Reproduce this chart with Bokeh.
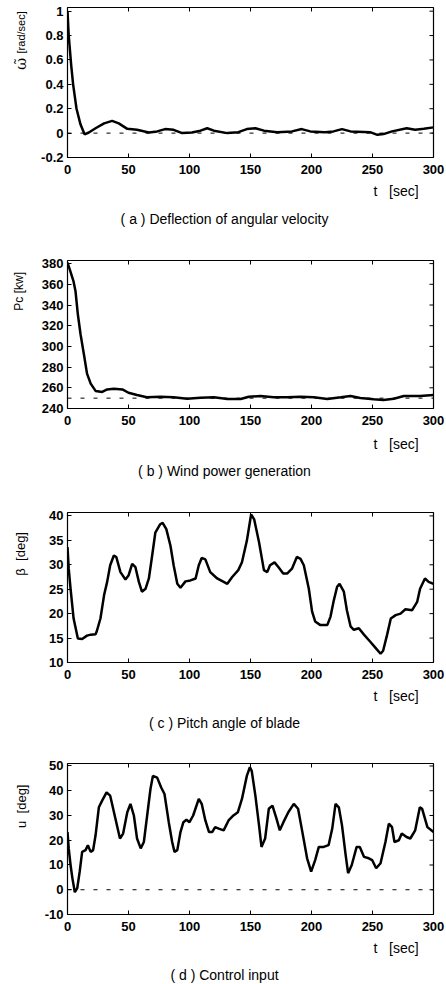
import math
from bokeh.plotting import figure
from bokeh.layouts import column, row
from bokeh.models import FixedTicker, Range1d, Span, Label
from bokeh.embed import file_html
from bokeh.resources import INLINE

# ---------------- data ----------------
t_ticks = [0, 50, 100, 150, 200, 250, 300]

# (a) deflection of angular velocity
t_a = [0, 1, 3, 4.6, 7.4, 10.7, 14, 17.5, 23, 30, 36.6, 42, 49, 57, 66.7, 73.5, 80, 87, 94,
       102, 109, 114.5, 120, 131, 140, 147, 154, 161, 172, 184, 192, 199, 211, 218, 225,
       232, 248, 254, 259, 266, 278, 285, 292, 300]
omega_a = [1.0, 0.8, 0.56, 0.4, 0.2, 0.07, -0.01, 0.005, 0.04, 0.08, 0.1, 0.08, 0.035, 0.027,
           0.005, 0.014, 0.033, 0.027, 0.0, 0.005, 0.02, 0.04, 0.02, 0.0, 0.008, 0.033, 0.04,
           0.02, 0.008, 0.014, 0.033, 0.014, 0.008, 0.014, 0.033, 0.014, 0.008, -0.014,
           -0.008, 0.014, 0.04, 0.027, 0.035, 0.047]
ref_a = 0.0
yticks_a = [-0.2, 0, 0.2, 0.4, 0.6, 0.8, 1]
ylabels_a = ["-0.2", "0", "0.2", "0.4", "0.6", "0.8", "1"]

# (b) wind power generation
t_b = [0, 2.5, 5, 6.6, 8.5, 10.7, 13.4, 16, 19, 23, 28.4, 32.5, 38, 45, 50, 57, 65, 76, 87,
       98, 109, 120, 131, 142, 148.6, 158, 169, 180, 191, 202, 213, 224, 232, 240, 251, 259,
       267.5, 275.7, 289, 300]
pc_b = [381, 372, 362.5, 353, 330.8, 311.7, 292.7, 273.7, 264, 257, 256, 258.4, 259, 258.4,
        255.2, 253, 250.8, 251.4, 250.8, 249.5, 250.5, 250.8, 249.2, 249.2, 251.4, 252,
        250.8, 250.8, 251.4, 250.8, 249.2, 250.8, 252, 250.2, 248.9, 248.3, 249.5, 252, 252,
        253]
ref_b = 250
yticks_b = [240, 260, 280, 300, 320, 340, 360, 380]
ylabels_b = [str(v) for v in yticks_b]

# (c) pitch angle of blade
t_c = [0, 1, 2.5, 5, 8.5, 12, 16, 19, 23, 24, 27, 30, 32.5, 35, 38, 40, 43.4, 47.5, 50, 53,
       55.7, 58.5, 61, 64, 66.7, 69.4, 72, 76, 78, 81, 84.4, 87, 90, 92.6, 96.7, 100.8, 105,
       107.6, 110, 113, 117, 122.7, 128, 131, 135, 140, 143, 147, 150.5, 153, 157, 161,
       163.7, 166, 169.7, 173, 176.8, 180, 184, 188, 191, 193.7, 197.8, 200.5, 203, 207,
       213, 215.6, 218, 221, 223, 226.5, 229, 232, 234.7, 238.8, 243, 248, 252.5, 256.6,
       258.7, 262, 265, 269, 273, 277, 282.5, 286.6, 289, 293, 296, 300]
beta_c = [33.6, 29.2, 25.1, 19, 14.9, 14.8, 15.5, 15.7, 15.8, 16.4, 19, 23.8, 26.5, 29.9, 31.9,
          31.6, 28.5, 27, 27.8, 30.2, 29.5, 26.5, 24.5, 25.1, 27.2, 31.9, 36.6, 38.3, 38.6,
          37.3, 33.9, 29.9, 26.1, 25.3, 26.6, 26.8, 27.2, 29.9, 31.4, 31.1, 28.5, 27.2, 26.5,
          26.1, 27.5, 28.9, 30.5, 34.9, 40.3, 39.3, 34.6, 28.9, 28.5, 29.9, 30.5, 29.5, 28.2,
          28.2, 29.2, 31.6, 31.2, 29.9, 25.1, 20.4, 18.4, 17.7, 17.7, 19.4, 22.4, 25.5, 26.1,
          24.5, 20.7, 17.4, 16.7, 17, 15.7, 14.3, 13, 11.8, 12.4, 15.7, 19, 19.7, 20, 20.9,
          20.7, 22.4, 25.1, 27.2, 26.5, 26.1]
yticks_c = [10, 15, 20, 25, 30, 35, 40]
ylabels_c = [str(v) for v in yticks_c]

# (d) control input
t_d = [0, 1, 2.5, 4, 6, 8, 10, 12, 14.8, 16.7, 19, 21, 23, 25.7, 28.4, 32, 35, 39.3, 43, 45.6,
       49, 51.6, 54.4, 57, 60, 62.6, 65.3, 68, 70, 73.5, 76.8, 79.5, 83, 85.8, 87.7, 90, 92.6,
       95, 97.5, 100, 103, 107.6, 110, 113, 116, 118.6, 121, 124, 128, 132, 136, 139.6, 143,
       147, 149.5, 151, 154, 157, 159, 162, 165, 168, 171.3, 174, 177, 181, 185.5, 189, 192,
       196.4, 199.7, 203, 206, 210, 214, 217, 219.7, 222.4, 225, 228, 230, 233, 237, 239.6,
       243, 247, 249.7, 253, 256.6, 260.6, 263.4, 266, 268, 271.6, 274, 277.9, 281, 285,
       288.8, 290.7, 295, 300]
u_d = [23.3, 16.7, 10, 4.7, -1, 0.7, 7.3, 15.3, 16, 18, 15.3, 16, 22, 33.3, 36, 39.3, 38,
       28.7, 20.7, 22.7, 31.3, 34.7, 30, 20.7, 16.7, 19.3, 30, 40.7, 46, 45.3, 41.3, 38.7,
       27.3, 19.3, 15.3, 16, 23.3, 27.3, 28.3, 27.3, 30, 36.7, 34.7, 28, 23.3, 23.3, 25.3,
       24.7, 24, 28, 30, 31.3, 36.7, 46, 49.5, 48, 38, 26, 17.3, 20.7, 32.7, 34, 28.7, 24,
       27.3, 31.3, 34.7, 32.7, 24.7, 12.7, 7.3, 12, 17.3, 17.3, 18, 24.7, 34.7, 33.3, 26, 14,
       6.7, 10, 17.3, 17.3, 13.3, 12.7, 12, 8.7, 10.7, 19.3, 26.7, 25.3, 19.3, 20, 22.7, 21.3,
       20.7, 24, 33.3, 32.7, 25.3, 23.3]
ref_d = 0.0
yticks_d = [-10, 0, 10, 20, 30, 40, 50]
ylabels_d = [str(v) for v in yticks_d]

# ---------------- layout ----------------
PAGE_W = 446
LEFT_W = 30                 # strip holding the rotated y title
FRAME_L = 67                # frame left edge on the page
FRAME_W = 366
PLOT_W = PAGE_W - LEFT_W
BL = FRAME_L - LEFT_W
BR = PLOT_W - BL - FRAME_W
TICK_FONT = "Liberation Sans"
TEXT_FONT = "Liberation Sans"
NB = "\u00a0"
X_TICK_ROOM = 24


def text_canvas(w, h):
    """A blank figure whose frame covers it entirely; coordinates = pixels."""
    c = figure(width=w, height=h, x_range=Range1d(0, w), y_range=Range1d(0, h),
               output_backend="svg", toolbar_location=None, x_axis_type=None,
               y_axis_type=None, min_border=0, min_border_left=0, min_border_right=0,
               min_border_top=0, min_border_bottom=0)
    c.outline_line_color = None
    c.background_fill_color = "white"
    c.border_fill_color = "white"
    return c


def make_panel(t, y, yr, yticks, ylabels, ytitles, caption, ref, top, frame_h,
               xlab_y, cap_y, text_h):
    ph = top + frame_h + X_TICK_ROOM
    p = figure(width=PLOT_W, height=ph, x_range=Range1d(0, 300),
               y_range=Range1d(yr[0], yr[1]), output_backend="svg",
               toolbar_location=None, min_border_left=BL, min_border_right=BR,
               min_border_top=top, min_border_bottom=X_TICK_ROOM)
    p.xgrid.visible = False
    p.ygrid.visible = False
    p.outline_line_color = "black"
    p.outline_line_width = 1.2
    p.background_fill_color = "white"
    p.border_fill_color = "white"

    p.xaxis.ticker = FixedTicker(ticks=t_ticks)
    p.yaxis.ticker = FixedTicker(ticks=yticks)
    p.yaxis.major_label_overrides = {v: s for v, s in zip(yticks, ylabels)}
    for ax in (p.xaxis[0], p.yaxis[0]):
        ax.major_tick_in = 4
        ax.major_tick_out = 0
        ax.minor_tick_in = 0
        ax.minor_tick_out = 0
        ax.axis_line_color = None
        ax.major_tick_line_color = "black"
        ax.major_label_text_font = TICK_FONT
        ax.major_label_text_font_size = "13px"
        ax.major_label_text_font_style = "bold"
        ax.major_label_text_color = "black"
    p.xaxis.major_label_standoff = 7
    p.yaxis.major_label_standoff = 4

    ppx = FRAME_W / 300.0
    ppy = frame_h / (yr[1] - yr[0])

    # box ticks on top and right edges (from the tick lists)
    n_t = len(t_ticks)
    p.segment(x0=t_ticks, y0=[yr[1]] * n_t, x1=t_ticks, y1=[yr[1] - 4 / ppy] * n_t,
              line_color="black", line_width=1)
    n_y = len(yticks)
    p.segment(x0=[300] * n_y, y0=yticks, x1=[300 - 4 / ppx] * n_y, y1=yticks,
              line_color="black", line_width=1)

    if ref is not None:
        p.add_layout(Span(location=ref, dimension="width", line_color="black",
                          line_width=1, line_dash="4 9"))

    p.line(t, y, line_color="black", line_width=2.5)

    # rotated y title strip
    lt = text_canvas(LEFT_W, ph)
    for (txt, fx, fy, font, size) in ytitles:
        lt.add_layout(Label(x=fx, y=ph - fy, text=txt, angle=math.pi / 2,
                            text_align="center", text_baseline="middle", text_font=font,
                            text_font_size=size, text_color="black"))

    # strip below: x title and caption
    bt = text_canvas(PAGE_W, text_h)
    bt.add_layout(Label(x=373, y=text_h - xlab_y, text="t" + NB * 3 + "[sec]",
                        text_align="left", text_baseline="middle", text_font=TEXT_FONT,
                        text_font_size="14px", text_color="black"))
    bt.add_layout(Label(x=224, y=text_h - cap_y, text=caption, text_align="center",
                        text_baseline="middle", text_font=TEXT_FONT,
                        text_font_size="14px", text_color="black"))
    return column(row(lt, p, spacing=0), bt, spacing=0)


pa = make_panel(t_a, omega_a, (-0.2, 1.03), yticks_a, ylabels_a,
                [("\u03c9\u0303", 20, 68, "DejaVu Serif", "15px"),
                 ("[rad/sec]", 20, 30, TEXT_FONT, "11px")],
                "( a ) Deflection of angular velocity", ref_a, 7, 150, 9, 37, 59)
pb = make_panel(t_b, pc_b, (240, 383), yticks_b, ylabels_b,
                [("Pc" + NB + "[kw]", 18, 40, TEXT_FONT, "12px")],
                "( b ) Wind power generation", ref_b, 20, 148, 11, 38, 58)
pc = make_panel(t_c, beta_c, (10, 40.7), yticks_c, ylabels_c,
                [("\u03b2" + NB * 2 + "[deg]", 20, 54, TEXT_FONT, "13px")],
                "( c ) Pitch angle of blade", None, 22, 150, 9, 36, 54)
pd = make_panel(t_d, u_d, (-10, 51), yticks_d, ylabels_d,
                [("u" + NB * 2 + "[deg]", 21, 56, TEXT_FONT, "13px")],
                "( d ) Control input", ref_d, 23, 151, 9, 36, 46)

layout = column(pa, pb, pc, pd, spacing=0)
open("out.html", "w").write(file_html(layout, INLINE))
